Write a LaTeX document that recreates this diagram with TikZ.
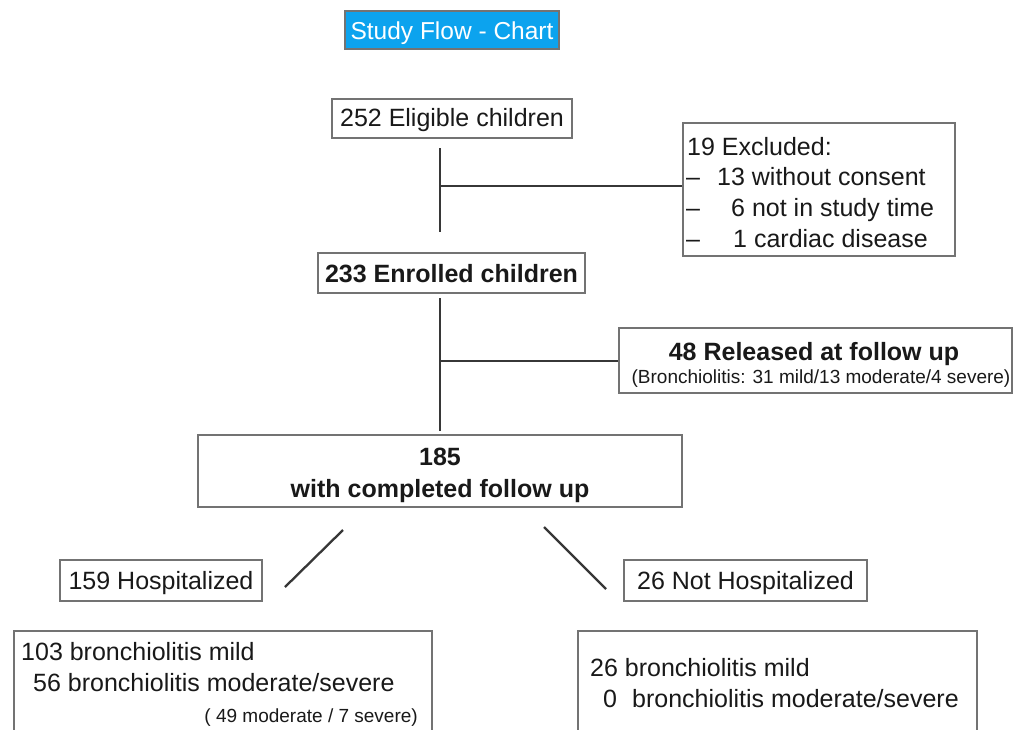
\documentclass[tikz,border=0pt]{standalone}
\usepackage{fontspec}
\setmainfont{Liberation Sans}
\definecolor{titleblue}{RGB}{12,163,238}
\definecolor{boxgray}{RGB}{115,115,115}
\definecolor{linegray}{RGB}{55,55,55}
\definecolor{inkgray}{RGB}{25,25,25}
\begin{document}
\begin{tikzpicture}[x=1pt,y=-1pt,
  box/.style={draw=boxgray,line width=1.4pt,inner sep=0pt,rectangle},
  conn/.style={draw=linegray,line width=2.3pt},
  txt/.style={inner sep=0pt,text=inkgray,font=\fontsize{25}{30}\selectfont},
  btxt/.style={inner sep=0pt,text=inkgray,font=\fontsize{25}{30}\selectfont\bfseries},
  stxt/.style={inner sep=0pt,text=inkgray,font=\fontsize{19}{23}\selectfont}]
\useasboundingbox (0,0) rectangle (1016,729);
\clip (0,0) rectangle (1016,729);
\fill[white] (0,0) rectangle (1016,729);

% title
\node[box,fill=titleblue,minimum width=214pt,minimum height=38pt] (title) at (452,30) {};
\node[inner sep=0pt,text=white,anchor=base,font=\fontsize{24.5}{29}\selectfont] (titletxt) at (452,39) {Study Flow - Chart};

% boxes
\node[box,minimum width=240pt,minimum height=39pt] (elig) at (452,118.5) {};
\node[box,minimum width=272pt,minimum height=133pt] (excl) at (819,189.5) {};
\node[box,minimum width=267pt,minimum height=40pt] (enr) at (451.5,273) {};
\node[box,minimum width=393pt,minimum height=65pt] (rel) at (815.5,360.5) {};
\node[box,minimum width=484pt,minimum height=72pt] (comp) at (440,471) {};
\node[box,minimum width=202pt,minimum height=41pt] (hosp) at (161,580.5) {};
\node[box,minimum width=243pt,minimum height=41pt] (nhosp) at (745.5,580.5) {};
\node[box,minimum width=418pt,minimum height=159pt] (lbox) at (223,710.5) {};
\node[box,minimum width=399pt,minimum height=159pt] (rbox) at (777.5,710.5) {};

% texts
\node[txt,anchor=base] (eligtxt) at (452,126) {252 Eligible children};
\node[txt,anchor=base west] (ex1) at (687,155) {19 Excluded:};
\node[txt,anchor=base west] (ex2d) at (686,185) {–};
\node[txt,anchor=base west] (ex2) at (717,185) {13 without consent};
\node[txt,anchor=base west] (ex3d) at (686,216) {–};
\node[txt,anchor=base west] (ex3) at (731,216) {6 not in study time};
\node[txt,anchor=base west] (ex4d) at (686,247) {–};
\node[txt,anchor=base west] (ex4) at (733,247) {1 cardiac disease};
\node[btxt,anchor=base] (enrtxt) at (451.5,282) {233 Enrolled children};
\node[btxt,anchor=base] (reltxt) at (814,360) {48 Released at follow up};
\node[stxt,anchor=base] (relsub) at (821,383) {(Bronchiolitis: 31 mild/13 moderate/4 severe)};
\node[btxt,anchor=base] (comp1) at (440,465) {185};
\node[btxt,anchor=base] (comp2) at (440,497) {with completed follow up};
\node[txt,anchor=base] (hosptxt) at (161,589.5) {159 Hospitalized};
\node[txt,anchor=base] (nhosptxt) at (745.5,589.5) {26 Not Hospitalized};
\node[txt,anchor=base west] (l1) at (21,660) {103 bronchiolitis mild};
\node[txt,anchor=base west] (l2) at (33,691) {56 bronchiolitis moderate/severe};
\node[stxt,anchor=base east] (l3) at (418,722) {( 49 moderate / 7 severe)};
\node[txt,anchor=base west] (r1) at (590,676) {26 bronchiolitis mild};
\node[txt,anchor=base west] (r2n) at (603,707) {0};
\node[txt,anchor=base west] (r2) at (632,707) {bronchiolitis moderate/severe};

% connectors
\coordinate (a1) at (440,148);
\coordinate (a2) at (440,232);
\coordinate (a3) at (440,186);
\draw[conn] (a1) -- (a2);
\draw[conn] (a3) -- (a3 -| excl.west);
\coordinate (b1) at (440,298);
\coordinate (b2) at (440,431);
\coordinate (b3) at (440,361);
\draw[conn] (b1) -- (b2);
\draw[conn] (b3) -- (b3 -| rel.west);
\coordinate (d1) at (343,530);
\coordinate (d2) at (285,587);
\coordinate (d3) at (544,527);
\coordinate (d4) at (606,589);
\draw[conn] (d1) -- (d2);
\draw[conn] (d3) -- (d4);
\end{tikzpicture}
\end{document}
